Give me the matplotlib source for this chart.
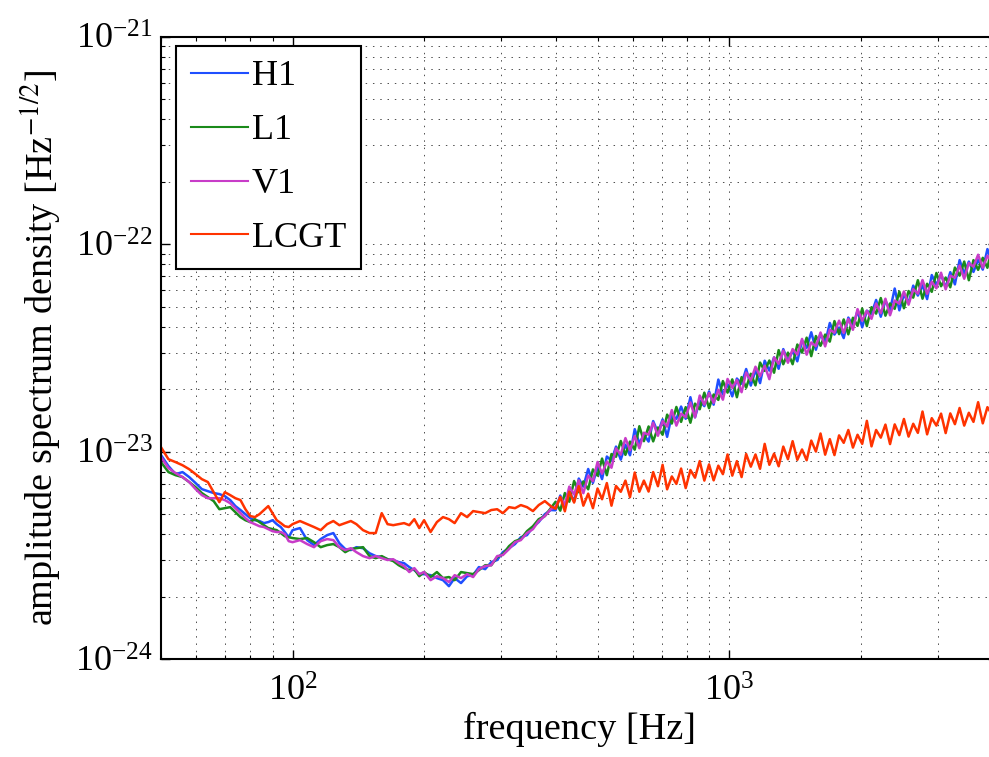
import numpy as np
import matplotlib
matplotlib.use("Agg")
import matplotlib.pyplot as plt
from matplotlib.ticker import NullFormatter, FixedLocator

plt.rcParams['font.family'] = ['Liberation Serif', 'DejaVu Serif']
plt.rcParams['mathtext.fontset'] = 'stix'

# frequency bins [Hz]
freq = [50, 52, 54, 56, 58, 60, 62, 64, 66, 68, 70, 72, 74, 76, 78, 80, 82, 84, 86, 88, 90, 92, 94, 96, 98, 100,
        104, 108, 112, 116, 120, 124, 128, 132, 136, 140, 145, 150, 155, 160, 165, 170, 175, 180, 185, 190, 195, 200,
        207, 214, 221, 228, 235, 243, 251, 259, 267, 276, 285, 294, 303, 313, 323, 333, 344, 355, 366, 378, 390,
        400, 410, 420, 430, 441, 452, 463, 475, 487, 499, 511, 524, 537, 550, 564, 578, 592, 607, 622, 637,
        653, 669, 686, 703, 720, 738, 756, 775, 794, 814, 834, 855, 876, 898, 920, 943, 966, 990, 1015, 1040,
        1066, 1092, 1119, 1147, 1175, 1204, 1234, 1265, 1296, 1328, 1361, 1395, 1430, 1466, 1502, 1539, 1577, 1616, 1656, 1697,
        1739, 1782, 1826, 1871, 1917, 1964, 2013, 2063, 2114, 2166, 2220, 2275, 2331, 2389, 2448, 2508, 2570, 2634, 2699, 2766,
        2834, 2904, 2976, 3050, 3125, 3202, 3281, 3363, 3446, 3531, 3618, 3708, 3800, 3894, 3990, 4089]

# log10 of amplitude spectral density [1/sqrt(Hz)]
h1_log = [-23.017, -23.070, -23.109, -23.099, -23.123, -23.152, -23.181, -23.191, -23.200, -23.205, -23.215, -23.234, -23.263,
          -23.282, -23.302, -23.321, -23.331, -23.335, -23.345, -23.340, -23.331, -23.350, -23.364, -23.388, -23.413, -23.379,
          -23.369, -23.427, -23.451, -23.422, -23.403, -23.393, -23.442, -23.470, -23.475, -23.461, -23.466, -23.490, -23.504,
          -23.509, -23.519, -23.523, -23.533, -23.538, -23.557, -23.572, -23.591, -23.591,
          -23.596, -23.610, -23.620, -23.649, -23.610, -23.634, -23.601, -23.596, -23.557, -23.567, -23.533, -23.523, -23.485,
          -23.466, -23.446, -23.413, -23.403, -23.364, -23.340, -23.302, -23.282,
          -23.283, -23.212, -23.266, -23.193, -23.240, -23.130, -23.169, -23.084, -23.151, -23.075,
          -23.133, -23.024, -23.044, -22.976, -23.039, -22.967, -23.018, -22.892, -22.960, -22.918,
          -22.952, -22.853, -22.909, -22.845, -22.929, -22.824, -22.842, -22.783, -22.842, -22.738,
          -22.835, -22.755, -22.781, -22.710, -22.774, -22.653, -22.725, -22.675, -22.734, -22.648,
          -22.673, -22.602, -22.682, -22.607, -22.670, -22.562, -22.610, -22.546, -22.601, -22.506,
          -22.565, -22.514, -22.565, -22.465, -22.500, -22.425, -22.509, -22.434, -22.476, -22.380,
          -22.436, -22.402, -22.453, -22.354, -22.396, -22.321, -22.401, -22.321, -22.336, -22.269,
          -22.350, -22.272, -22.319, -22.214, -22.319, -22.244, -22.283, -22.200, -22.248, -22.198,
          -22.265, -22.149, -22.196, -22.146, -22.210, -22.135, -22.194, -22.077, -22.142, -22.084,
          -22.134, -22.075, -22.123, -22.024, -22.087, -22.029]

l1_log = [-23.051, -23.099, -23.114, -23.123, -23.147, -23.172, -23.200, -23.220, -23.239, -23.278, -23.273, -23.268, -23.292,
          -23.316, -23.331, -23.340, -23.326, -23.340, -23.355, -23.369, -23.374, -23.379, -23.393, -23.408, -23.413, -23.417,
          -23.422, -23.417, -23.437, -23.461, -23.451, -23.446, -23.461, -23.485, -23.470, -23.466, -23.461, -23.504, -23.514,
          -23.504, -23.519, -23.528, -23.548, -23.562, -23.572, -23.567, -23.601, -23.581,
          -23.605, -23.581, -23.610, -23.605, -23.620, -23.581, -23.586, -23.591, -23.572, -23.548, -23.548, -23.509, -23.495,
          -23.456, -23.432, -23.422, -23.384, -23.360, -23.326, -23.311, -23.273,
          -23.242, -23.285, -23.200, -23.242, -23.142, -23.196, -23.144, -23.182, -23.086, -23.116,
          -23.034, -23.114, -23.012, -23.025, -22.949, -23.016, -22.952, -22.991, -22.878, -22.950,
          -22.879, -22.951, -22.884, -22.919, -22.822, -22.865, -22.785, -22.857, -22.786, -22.861,
          -22.769, -22.796, -22.716, -22.791, -22.725, -22.751, -22.660, -22.716, -22.652, -22.738,
          -22.641, -22.692, -22.625, -22.681, -22.571, -22.611, -22.561, -22.620, -22.511, -22.579,
          -22.523, -22.579, -22.484, -22.523, -22.451, -22.540, -22.443, -22.490, -22.436, -22.470,
          -22.371, -22.434, -22.363, -22.435, -22.355, -22.394, -22.311, -22.395, -22.304, -22.335,
          -22.260, -22.345, -22.286, -22.312, -22.229, -22.309, -22.226, -22.258, -22.174, -22.263,
          -22.191, -22.230, -22.139, -22.203, -22.161, -22.208, -22.113, -22.152, -22.084, -22.174,
          -22.077, -22.124, -22.066, -22.114, -22.014, -22.070]

v1_log = [-23.027, -23.080, -23.104, -23.123, -23.147, -23.181, -23.210, -23.225, -23.225, -23.225, -23.234, -23.249, -23.273,
          -23.297, -23.321, -23.340, -23.350, -23.360, -23.364, -23.374, -23.384, -23.388, -23.388, -23.398, -23.432, -23.437,
          -23.427, -23.446, -23.461, -23.432, -23.422, -23.427, -23.461, -23.475, -23.466, -23.485, -23.504, -23.514, -23.504,
          -23.514, -23.523, -23.519, -23.538, -23.552, -23.581, -23.562, -23.591, -23.581,
          -23.620, -23.601, -23.610, -23.629, -23.596, -23.610, -23.591, -23.605, -23.567, -23.552, -23.548, -23.504, -23.499,
          -23.470, -23.437, -23.427, -23.393, -23.374, -23.335, -23.311, -23.278,
          -23.266, -23.219, -23.257, -23.169, -23.207, -23.139, -23.201, -23.116, -23.143, -23.050,
          -23.107, -23.048, -23.078, -22.985, -23.015, -22.935, -22.994, -22.925, -22.984, -22.909,
          -22.919, -22.861, -22.924, -22.853, -22.880, -22.800, -22.875, -22.817, -22.834, -22.763,
          -22.835, -22.730, -22.774, -22.718, -22.765, -22.702, -22.750, -22.650, -22.693, -22.655,
          -22.714, -22.619, -22.658, -22.591, -22.637, -22.586, -22.651, -22.546, -22.577, -22.513,
          -22.572, -22.506, -22.533, -22.457, -22.533, -22.474, -22.492, -22.426, -22.493, -22.413,
          -22.427, -22.369, -22.428, -22.361, -22.413, -22.313, -22.369, -22.321, -22.360, -22.286,
          -22.333, -22.263, -22.343, -22.272, -22.287, -22.228, -22.292, -22.217, -22.239, -22.173,
          -22.240, -22.181, -22.213, -22.138, -22.218, -22.152, -22.162, -22.103, -22.167, -22.091,
          -22.109, -22.051, -22.114, -22.056, -22.087, -22.021]

lcgt_log = [-22.979, -23.037, -23.051, -23.066, -23.085, -23.109, -23.133, -23.147, -23.196, -23.244, -23.196, -23.210, -23.225,
            -23.234, -23.278, -23.311, -23.316, -23.302, -23.282, -23.263, -23.297, -23.331, -23.345, -23.360, -23.364, -23.350,
            -23.335, -23.350, -23.364, -23.379, -23.350, -23.335, -23.355, -23.345, -23.335, -23.350, -23.379, -23.393, -23.393,
            -23.297, -23.350, -23.355, -23.350, -23.345, -23.355, -23.326, -23.369, -23.331,
            -23.388, -23.340, -23.316, -23.326, -23.345, -23.297, -23.316, -23.287, -23.292, -23.297, -23.282, -23.278, -23.297,
            -23.268, -23.273, -23.258, -23.268, -23.287, -23.258, -23.239, -23.263,
            -23.276, -23.219, -23.288, -23.193, -23.246, -23.167, -23.261, -23.203, -23.273, -23.178,
            -23.230, -23.152, -23.261, -23.166, -23.194, -23.140, -23.220, -23.101, -23.194, -23.140,
            -23.193, -23.099, -23.167, -23.064, -23.182, -23.120, -23.156, -23.082, -23.176, -23.089,
            -23.126, -23.046, -23.140, -23.062, -23.139, -23.068, -23.109, -23.014, -23.116, -23.046,
            -23.123, -23.012, -23.073, -23.014, -23.083, -22.963, -23.064, -23.010, -23.071, -22.976,
            -23.037, -22.950, -23.040, -22.990, -23.042, -22.947, -23.000, -22.913, -23.015, -22.940,
            -23.017, -22.922, -22.958, -22.896, -22.981, -22.919, -22.963, -22.852, -22.975, -22.896,
            -22.933, -22.870, -22.964, -22.869, -22.921, -22.843, -22.928, -22.866, -22.910, -22.807,
            -22.917, -22.839, -22.875, -22.817, -22.911, -22.816, -22.868, -22.790, -22.875, -22.813,
            -22.857, -22.762, -22.864, -22.786, -22.822, -22.759]

labels = ['H1', 'L1', 'V1', 'LCGT']
colors = ['#1f4fff', '#1a8a1a', '#c83cc8', '#ff3300']
xticks = [1e2, 1e3]
yticks = [1e-24, 1e-23, 1e-22, 1e-21]

fig = plt.figure(figsize=(9.89, 7.57), dpi=100)
ax = fig.add_axes([0.1628, 0.1295, 0.8453, 0.822])

for data, lab, col in zip([h1_log, l1_log, v1_log, lcgt_log], labels, colors):
    ax.plot(freq, 10 ** np.array(data), color=col, lw=1.8, label=lab)

ax.set_xscale('log')
ax.set_yscale('log')
ax.set_xlim(50, 4096)
ax.set_ylim(1e-24, 1e-21)
ax.xaxis.set_major_locator(FixedLocator(xticks))
ax.yaxis.set_major_locator(FixedLocator(yticks))
ax.xaxis.set_minor_formatter(NullFormatter())
ax.yaxis.set_minor_formatter(NullFormatter())

ax.grid(True, which='both', linestyle=(0, (1.5, 6)), color='0.3', lw=0.7)
ax.tick_params(which='both', direction='in', top=True, right=True)
ax.tick_params(which='major', length=6.5, width=1.0, labelsize=26)
ax.tick_params(axis='x', which='major', pad=12)
ax.tick_params(axis='y', which='major', pad=6)
ax.tick_params(which='minor', length=3.2, width=0.8)
for s in ax.spines.values():
    s.set_linewidth(1.5)

ax.set_xlabel('frequency [Hz]', fontsize=27.5, labelpad=2)
ax.set_ylabel(r'amplitude spectrum density [Hz$^{-1/2}$]', fontsize=27.5, labelpad=8)

leg = ax.legend(loc='upper left', bbox_to_anchor=(0.018, 0.9855), borderaxespad=0,
                fontsize=26, fancybox=False, edgecolor='k', framealpha=1,
                handlelength=1.6, handletextpad=0.1, labelspacing=0.57, borderpad=0.4)
leg.get_frame().set_linewidth(1.5)
for line in leg.get_lines():
    line.set_linewidth(1.5)

fig.savefig('out.png', dpi=100)
